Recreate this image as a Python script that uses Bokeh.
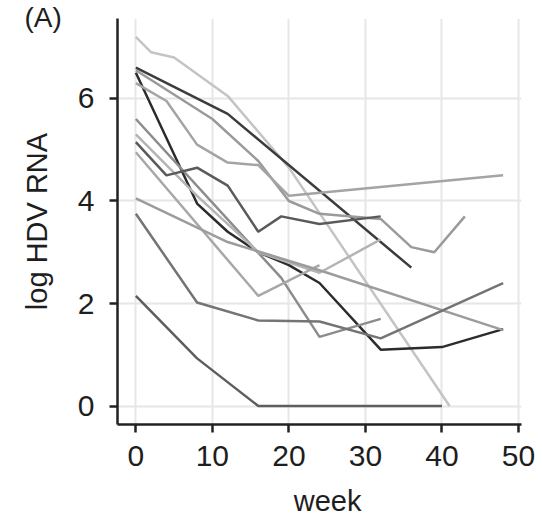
from bokeh.plotting import figure
from bokeh.models import Range1d, FixedTicker
from bokeh.embed import file_html
from bokeh.resources import INLINE

# weeks and log HDV RNA values per patient
p01_week = [0, 2, 5, 12, 16, 20, 41]
p01_rna = [7.2, 6.9, 6.8, 6.05, 5.35, 4.65, 0.0]

p02_week = [0, 12, 36]
p02_rna = [6.6, 5.7, 2.7]

p03_week = [0, 8, 12, 16, 20, 24, 32, 40, 48]
p03_rna = [6.5, 3.95, 3.4, 3.0, 2.75, 2.4, 1.1, 1.15, 1.5]

p04_week = [0, 10, 16, 20, 24, 32, 36, 39, 43]
p04_rna = [6.55, 5.6, 4.78, 4.0, 3.75, 3.65, 3.1, 3.0, 3.7]

p05_week = [0, 4, 8, 12, 16, 20, 48]
p05_rna = [6.3, 5.95, 5.1, 4.75, 4.7, 4.1, 4.5]

p06_week = [0, 19, 24, 32]
p06_rna = [5.6, 2.5, 1.35, 1.7]

p07_week = [0, 8, 16, 24, 32]
p07_rna = [5.3, 4.1, 3.0, 2.6, 3.25]

p08_week = [0, 4, 8, 12, 16, 19, 24, 32]
p08_rna = [5.15, 4.5, 4.65, 4.3, 3.4, 3.7, 3.55, 3.7]

p09_week = [0, 16, 24]
p09_rna = [4.95, 2.15, 2.75]

p10_week = [0, 12, 24, 48]
p10_rna = [4.05, 3.2, 2.65, 1.48]

p11_week = [0, 8, 16, 24, 32, 48]
p11_rna = [3.75, 2.02, 1.67, 1.65, 1.32, 2.4]

p12_week = [0, 8, 16, 40]
p12_rna = [2.15, 0.93, 0.0, 0.0]

patients = [
    (p01_week, p01_rna, "#c4c4c4"),
    (p02_week, p02_rna, "#3c3c3c"),
    (p03_week, p03_rna, "#2c2c2c"),
    (p04_week, p04_rna, "#9a9a9a"),
    (p05_week, p05_rna, "#a4a4a4"),
    (p06_week, p06_rna, "#8c8c8c"),
    (p07_week, p07_rna, "#b4b4b4"),
    (p08_week, p08_rna, "#5a5a5a"),
    (p09_week, p09_rna, "#a8a8a8"),
    (p10_week, p10_rna, "#9c9c9c"),
    (p11_week, p11_rna, "#747474"),
    (p12_week, p12_rna, "#5e5e5e"),
]

x_ticks = [0, 10, 20, 30, 40, 50]
y_ticks = [0, 2, 4, 6]

p = figure(width=542, height=519, output_backend="svg", toolbar_location=None,
           x_range=Range1d(-2.4, 50.4), y_range=Range1d(-0.36, 7.56),
           min_border_left=117, min_border_right=21,
           min_border_top=18, min_border_bottom=95)
p.outline_line_color = None
p.background_fill_color = "white"

for wk, rna, col in patients:
    p.line(wk, rna, line_color=col, line_width=2.5)

font = "Liberation Sans"
ink = "#1e1e1e"
for ax in (p.xaxis[0], p.yaxis[0]):
    ax.axis_line_color = "#222222"
    ax.axis_line_width = 2.5
    ax.major_tick_line_color = "#222222"
    ax.major_tick_line_width = 2.5
    ax.major_tick_in = 0
    ax.major_tick_out = 8
    ax.minor_tick_line_color = None
    ax.major_label_text_font = font
    ax.major_label_text_font_size = "30px"
    ax.major_label_text_color = ink
    ax.axis_label_text_font = font
    ax.axis_label_text_font_size = "29px"
    ax.axis_label_text_font_style = "normal"
    ax.axis_label_text_color = ink

p.xaxis.ticker = FixedTicker(ticks=x_ticks)
p.yaxis.ticker = FixedTicker(ticks=y_ticks)
p.xaxis.major_label_standoff = 13
p.yaxis.major_label_standoff = 15

p.xaxis.axis_label = "\u00a0\u00a0week"
p.xaxis.axis_label_standoff = 16
p.yaxis.axis_label = "log HDV RNA"
p.yaxis.axis_label_standoff = 22

p.xgrid.ticker = FixedTicker(ticks=x_ticks)
p.ygrid.ticker = FixedTicker(ticks=y_ticks)
p.grid.grid_line_color = "#e6e6e6"
p.grid.grid_line_width = 2

# panel tag in the top-left corner
p.title.text = "(A)"
p.title.align = "left"
p.title.vertical_align = "top"
p.title.offset = -93
p.title.standoff = -34
p.title.text_font = font
p.title.text_font_size = "28px"
p.title.text_font_style = "normal"
p.title.text_color = ink

open("out.html", "w").write(file_html(p, INLINE))
